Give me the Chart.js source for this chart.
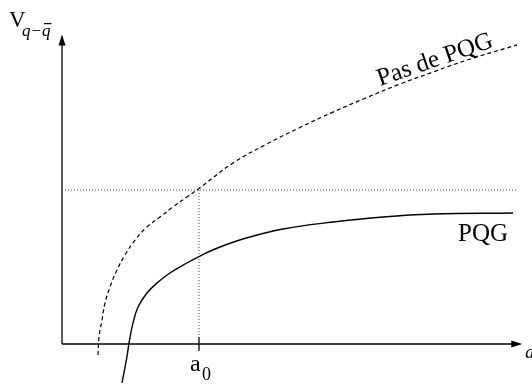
<!DOCTYPE html>
<html>
<head>
<meta charset="utf-8">
<script src="https://cdn.jsdelivr.net/npm/chart.js@4/dist/chart.umd.min.js"></script>
<style>
  body { margin: 0; background: #fff; }
  #chart { display: block; }
</style>
</head>
<body>
<canvas id="chart" width="532" height="385"></canvas>
<script>
// units: a0 = 1 on x, the dotted reference level = 1 on y
const a0 = 1;
const refLevel = 1;
const refEnd = 3.32;

// "Pas de PQG" (dashed)
const pasX = [0.263, 0.270, 0.292, 0.314, 0.350, 0.401, 0.460, 0.533, 0.620, 0.715, 0.810, 0.912, 1.000, 1.248, 1.496, 1.737, 1.978, 2.226, 2.467, 2.708, 2.956, 3.321];
const pasY = [-0.071, 0.045, 0.156, 0.266, 0.370, 0.481, 0.578, 0.675, 0.760, 0.825, 0.890, 0.955, 1.010, 1.175, 1.299, 1.406, 1.506, 1.601, 1.688, 1.766, 1.844, 1.942];

// "PQG" (solid)
const pqgX = [0.438, 0.474, 0.489, 0.518, 0.555, 0.620, 0.693, 0.788, 0.912, 1.007, 1.117, 1.321, 1.613, 1.978, 2.343, 2.708, 3.292];
const pqgY = [-0.253, -0.084, 0.006, 0.136, 0.240, 0.331, 0.396, 0.461, 0.526, 0.571, 0.617, 0.682, 0.747, 0.792, 0.825, 0.844, 0.851];

// axis ends
const xAxisEnd = 3.36;
const yAxisEnd = 2.01;

const toPts = (xs, ys) => xs.map((x, i) => ({ x: x, y: ys[i] }));

const serif = '"Liberation Serif", "DejaVu Serif", serif';

const annotations = {
    id: 'annotations',
    afterDatasetsDraw(chart) {
        const ctx = chart.ctx;
        const sx = chart.scales.x, sy = chart.scales.y;
        const ox = sx.getPixelForValue(0), oy = sy.getPixelForValue(0);
        const xe = sx.getPixelForValue(xAxisEnd), ye = sy.getPixelForValue(yAxisEnd);
        ctx.save();
        ctx.fillStyle = '#000';
        // arrow heads
        ctx.beginPath();
        ctx.moveTo(ox, ye);
        ctx.lineTo(ox - 3.5, ye + 11);
        ctx.lineTo(ox + 3.5, ye + 11);
        ctx.closePath();
        ctx.fill();
        ctx.beginPath();
        ctx.moveTo(xe, oy);
        ctx.lineTo(xe - 11, oy - 3.5);
        ctx.lineTo(xe - 11, oy + 3.5);
        ctx.closePath();
        ctx.fill();

        // y label V_{q-qbar}
        ctx.textBaseline = 'alphabetic';
        ctx.textAlign = 'left';
        ctx.font = '23px ' + serif;
        ctx.fillText('V', 9, 27);
        ctx.font = 'italic 17px ' + serif;
        ctx.fillText('q\u2212', 22, 36);
        const w1 = ctx.measureText('q\u2212').width;
        ctx.fillText('q', 22 + w1, 36);
        const wq = ctx.measureText('q').width;
        ctx.fillRect(22 + w1 + 2, 23, wq - 1, 1.2);

        // a0 label
        const ax = sx.getPixelForValue(a0);
        ctx.font = '24px ' + serif;
        ctx.fillText('a', ax - 9, 371);
        ctx.font = '18px ' + serif;
        ctx.fillText('0', ax + 3, 380);

        // x label (cut at the edge)
        ctx.font = 'italic 18px ' + serif;
        ctx.fillText('a', xe + 3, 358);

        // curve labels
        ctx.font = '25px ' + serif;
        ctx.fillText('PQG', 458, 241);
        ctx.translate(380, 86);
        ctx.rotate(-19 * Math.PI / 180);
        ctx.fillText('Pas de PQG', 0, 0);
        ctx.restore();
    }
};

new Chart(document.getElementById('chart'), {
    type: 'line',
    data: {
        datasets: [
            {
                label: 'Pas de PQG',
                data: toPts(pasX, pasY),
                borderColor: '#000',
                borderWidth: 1.2,
                borderDash: [4, 3],
                pointRadius: 0,
                tension: 0.4
            },
            {
                label: 'PQG',
                data: toPts(pqgX, pqgY),
                borderColor: '#000',
                borderWidth: 1.4,
                pointRadius: 0,
                tension: 0.4
            },
            {
                label: 'niveau',
                data: [{ x: 0, y: refLevel }, { x: refEnd, y: refLevel }],
                borderColor: '#444',
                borderWidth: 1,
                borderDash: [1, 2],
                pointRadius: 0
            },
            {
                label: 'a0',
                data: [{ x: a0, y: 0 }, { x: a0, y: refLevel }],
                borderColor: '#444',
                borderWidth: 1,
                borderDash: [1, 2],
                pointRadius: 0
            },
            {
                label: 'tick',
                data: [{ x: a0, y: -0.045 }, { x: a0, y: 0.045 }],
                borderColor: '#000',
                borderWidth: 1.3,
                pointRadius: 0
            },
            {
                label: 'axe x',
                data: [{ x: 0, y: 0 }, { x: xAxisEnd - 0.05, y: 0 }],
                borderColor: '#000',
                borderWidth: 1.3,
                pointRadius: 0
            },
            {
                label: 'axe y',
                data: [{ x: 0, y: 0 }, { x: 0, y: yAxisEnd - 0.05 }],
                borderColor: '#000',
                borderWidth: 1.3,
                pointRadius: 0
            }
        ]
    },
    options: {
        responsive: false,
        animation: false,
        layout: { padding: 0 },
        plugins: {
            legend: { display: false },
            tooltip: { enabled: false }
        },
        scales: {
            x: { type: 'linear', display: false, min: -0.4526, max: 3.4307 },
            y: { type: 'linear', display: false, min: -0.2662, max: 2.2338 }
        }
    },
    plugins: [annotations]
});
</script>
</body>
</html>
